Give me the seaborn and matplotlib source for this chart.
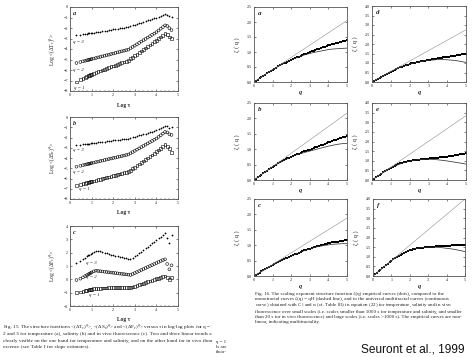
import numpy as np
import pandas as pd
import matplotlib
matplotlib.use("Agg")
import matplotlib.pyplot as plt
from matplotlib.ticker import MultipleLocator
import seaborn as sns

# ---- Fig. 15 data: log tau vs log structure function, q = 1, 2, 3 ----
logt = [0.3, 0.48, 0.6, 0.7, 0.78, 0.85, 0.9, 0.95, 1.0, 1.1, 1.2, 1.3, 1.4, 1.5, 1.6,
        1.7, 1.8, 1.9, 2.0, 2.1, 2.2, 2.3, 2.4, 2.5, 2.6, 2.7, 2.8, 2.9, 3.0, 3.1, 3.2,
        3.3, 3.4, 3.5, 3.6, 3.7, 3.8, 3.9, 4.0, 4.1, 4.2, 4.3, 4.4, 4.5, 4.6, 4.7]

temp_q3 = [-2.70, -2.63, -2.60, -2.57, -2.55, -2.52, -2.51, -2.49, -2.47, -2.44, -2.41, -2.37,
           -2.34, -2.31, -2.27, -2.24, -2.21, -2.17, -2.14, -2.10, -2.07, -2.03, -2.00, -1.96,
           -1.93, -1.89, -1.83, -1.76, -1.69, -1.62, -1.55, -1.49, -1.41, -1.35, -1.28, -1.21,
           -1.14, -1.07, -1.00, -0.93, -0.85, -0.77, -0.70, -0.73, -0.84, -0.92]
temp_q2 = [-5.33, -5.24, -5.17, -5.12, -5.08, -5.04, -5.01, -4.99, -4.96, -4.91, -4.86, -4.80,
           -4.75, -4.70, -4.64, -4.59, -4.54, -4.48, -4.43, -4.38, -4.32, -4.27, -4.22, -4.16,
           -4.11, -4.06, -3.93, -3.80, -3.68, -3.55, -3.42, -3.29, -3.16, -3.04, -2.91, -2.78,
           -2.65, -2.53, -2.40, -2.24, -2.07, -1.91, -1.75, -1.80, -2.02, -2.20]
temp_q1 = [-7.14, -6.92, -6.80, -6.70, -6.62, -6.55, -6.50, -6.45, -6.40, -6.32, -6.24, -6.17,
           -6.09, -6.01, -5.93, -5.86, -5.78, -5.70, -5.62, -5.55, -5.47, -5.39, -5.31, -5.24,
           -5.16, -5.08, -4.93, -4.79, -4.64, -4.49, -4.34, -4.20, -4.05, -3.90, -3.76, -3.61,
           -3.46, -3.32, -3.17, -3.01, -2.85, -2.70, -2.54, -2.60, -2.85, -3.00]

sal_q3 = [-2.75, -2.70, -2.67, -2.64, -2.62, -2.60, -2.59, -2.57, -2.56, -2.53, -2.51, -2.48,
          -2.45, -2.43, -2.40, -2.37, -2.34, -2.32, -2.29, -2.26, -2.24, -2.21, -2.18, -2.16,
          -2.13, -2.10, -2.04, -1.98, -1.92, -1.86, -1.79, -1.73, -1.67, -1.61, -1.55, -1.49,
          -1.42, -1.36, -1.30, -1.19, -1.09, -0.98, -0.87, -0.92, -1.05, -0.95]
sal_q2 = [-4.85, -4.76, -4.70, -4.65, -4.61, -4.58, -4.55, -4.53, -4.50, -4.45, -4.40, -4.35,
          -4.30, -4.25, -4.20, -4.15, -4.10, -4.05, -4.00, -3.96, -3.91, -3.86, -3.81, -3.76,
          -3.71, -3.66, -3.54, -3.42, -3.30, -3.18, -3.06, -2.94, -2.82, -2.70, -2.58, -2.46,
          -2.34, -2.22, -2.10, -1.94, -1.78, -1.62, -1.46, -1.50, -1.68, -1.75]
sal_q1 = [-6.70, -6.60, -6.52, -6.46, -6.41, -6.37, -6.34, -6.32, -6.30, -6.24, -6.19, -6.13,
          -6.07, -6.02, -5.96, -5.90, -5.85, -5.79, -5.73, -5.68, -5.62, -5.56, -5.51, -5.45,
          -5.40, -5.34, -5.19, -5.04, -4.89, -4.74, -4.59, -4.44, -4.30, -4.15, -4.00, -3.85,
          -3.70, -3.55, -3.40, -3.23, -3.05, -2.88, -2.70, -2.85, -3.05, -3.45]

fluo_q3 = [1.20, 1.35, 1.50, 1.62, 1.72, 1.80, 1.86, 1.92, 1.98, 2.08, 2.15, 2.13, 2.09, 2.04,
           1.99, 1.95, 1.90, 1.86, 1.82, 1.78, 1.74, 1.70, 1.66, 1.62, 1.57, 1.53, 1.50, 1.60,
           1.72, 1.84, 1.96, 2.08, 2.20, 2.32, 2.45, 2.57, 2.70, 2.82, 2.95, 3.07, 3.20, 3.32,
           3.45, 3.10, 2.75, 3.30]
fluo_q2 = [-0.05, 0.05, 0.15, 0.24, 0.31, 0.37, 0.42, 0.47, 0.52, 0.60, 0.65, 0.63, 0.61, 0.59,
           0.57, 0.55, 0.53, 0.51, 0.49, 0.47, 0.45, 0.43, 0.41, 0.39, 0.37, 0.35, 0.33, 0.40,
           0.47, 0.55, 0.62, 0.70, 0.77, 0.85, 0.92, 1.00, 1.07, 1.15, 1.22, 1.30, 1.37, 1.44,
           1.50, 1.15, 0.75, 1.05]
fluo_q1 = [-1.00, -0.95, -0.90, -0.86, -0.83, -0.80, -0.78, -0.76, -0.74, -0.70, -0.67, -0.66,
           -0.66, -0.65, -0.65, -0.65, -0.64, -0.64, -0.64, -0.64, -0.63, -0.63, -0.63, -0.63,
           -0.62, -0.62, -0.62, -0.57, -0.51, -0.46, -0.40, -0.35, -0.29, -0.24, -0.18, -0.13,
           -0.07, -0.02, 0.04, 0.09, 0.15, 0.20, 0.25, 0.12, -0.02, 0.12]

# ---- Fig. 16 data: zeta(q) ----
q_dots = [round(0.1 * i, 1) for i in range(51)]
q_curve = [0.0, 0.25, 0.5, 0.75, 1.0, 1.25, 1.5, 1.75, 2.0, 2.25, 2.5, 2.75, 3.0, 3.25, 3.5,
           3.75, 4.0, 4.25, 4.5, 4.75, 5.0]
q_line = [0, 5]

dots_a = [0.00, 0.04, 0.08, 0.12, 0.17, 0.21, 0.25, 0.29, 0.33, 0.37, 0.41, 0.44, 0.48, 0.52,
          0.56, 0.59, 0.62, 0.65, 0.68, 0.71, 0.74, 0.77, 0.79, 0.82, 0.84, 0.87, 0.90, 0.92,
          0.95, 0.97, 1.00, 1.02, 1.04, 1.07, 1.09, 1.11, 1.13, 1.16, 1.18, 1.20, 1.22, 1.24,
          1.26, 1.28, 1.30, 1.31, 1.33, 1.35, 1.36, 1.38, 1.39]
curve_a = [0, 0.10, 0.21, 0.31, 0.41, 0.50, 0.59, 0.67, 0.74, 0.80, 0.86, 0.91, 0.95, 0.99,
           1.02, 1.05, 1.08, 1.10, 1.11, 1.12, 1.13]
line_a = [0, 2.05]

dots_b = [0.00, 0.04, 0.09, 0.13, 0.17, 0.22, 0.26, 0.30, 0.35, 0.39, 0.43, 0.47, 0.50, 0.54,
          0.57, 0.61, 0.64, 0.67, 0.70, 0.73, 0.75, 0.78, 0.81, 0.83, 0.86, 0.88, 0.90, 0.93,
          0.95, 0.97, 0.99, 1.02, 1.04, 1.06, 1.08, 1.11, 1.13, 1.15, 1.17, 1.20, 1.22, 1.24,
          1.26, 1.29, 1.31, 1.33, 1.35, 1.37, 1.39, 1.41, 1.43]
curve_b = [0, 0.11, 0.22, 0.33, 0.43, 0.52, 0.60, 0.68, 0.75, 0.81, 0.86, 0.90, 0.94, 0.98,
           1.02, 1.06, 1.10, 1.13, 1.16, 1.18, 1.19]
line_b = [0, 2.17]

dots_c = [0.00, 0.04, 0.08, 0.11, 0.15, 0.18, 0.22, 0.25, 0.29, 0.32, 0.35, 0.38, 0.42, 0.45,
          0.48, 0.51, 0.54, 0.57, 0.60, 0.62, 0.65, 0.68, 0.71, 0.73, 0.76, 0.78, 0.80, 0.83,
          0.85, 0.87, 0.89, 0.91, 0.93, 0.95, 0.97, 0.98, 1.00, 1.02, 1.03, 1.05, 1.06, 1.07,
          1.09, 1.10, 1.11, 1.12, 1.13, 1.14, 1.15, 1.16, 1.17]
curve_c = [0, 0.09, 0.18, 0.27, 0.35, 0.43, 0.51, 0.58, 0.65, 0.71, 0.78, 0.83, 0.88, 0.93,
           0.96, 0.99, 1.01, 1.03, 1.04, 1.05, 1.05]
line_c = [0, 1.88]

dots_d = [0.00, 0.06, 0.11, 0.17, 0.22, 0.28, 0.33, 0.39, 0.44, 0.50, 0.55, 0.60, 0.65, 0.69,
          0.73, 0.77, 0.81, 0.85, 0.89, 0.92, 0.95, 0.98, 1.00, 1.02, 1.04, 1.06, 1.08, 1.10,
          1.12, 1.14, 1.16, 1.17, 1.19, 1.21, 1.22, 1.24, 1.26, 1.27, 1.29, 1.31, 1.32, 1.34,
          1.35, 1.37, 1.39, 1.40, 1.42, 1.44, 1.45, 1.47, 1.49]
curve_d = [0, 0.14, 0.28, 0.41, 0.55, 0.66, 0.77, 0.86, 0.94, 1.00, 1.06, 1.10, 1.14, 1.16,
           1.18, 1.18, 1.17, 1.15, 1.12, 1.08, 1.03]
line_d = [0, 2.75]

dots_e = [0.00, 0.07, 0.13, 0.20, 0.27, 0.33, 0.40, 0.46, 0.52, 0.58, 0.64, 0.69, 0.74, 0.78,
          0.82, 0.86, 0.89, 0.92, 0.95, 0.97, 0.99, 1.01, 1.02, 1.04, 1.05, 1.06, 1.07, 1.08,
          1.09, 1.10, 1.11, 1.12, 1.13, 1.14, 1.15, 1.16, 1.17, 1.18, 1.20, 1.21, 1.22, 1.24,
          1.25, 1.27, 1.28, 1.30, 1.32, 1.34, 1.35, 1.37, 1.39]
curve_e = [0, 0.17, 0.33, 0.48, 0.62, 0.74, 0.84, 0.92, 0.98, 1.03, 1.06, 1.08, 1.08, 1.07,
           1.05, 1.02, 0.99, 0.95, 0.91, 0.87, 0.83]
line_e = [0, 3.34]

dots_f = [0.00, 0.08, 0.16, 0.24, 0.32, 0.40, 0.48, 0.56, 0.64, 0.71, 0.79, 0.86, 0.93, 0.99,
          1.05, 1.11, 1.16, 1.21, 1.25, 1.29, 1.33, 1.36, 1.39, 1.41, 1.43, 1.45, 1.47, 1.48,
          1.49, 1.50, 1.51, 1.52, 1.53, 1.53, 1.54, 1.55, 1.55, 1.56, 1.56, 1.57, 1.57, 1.58,
          1.58, 1.59, 1.59, 1.60, 1.60, 1.61, 1.61, 1.62, 1.62]
curve_f = [0, 0.20, 0.40, 0.60, 0.79, 0.96, 1.11, 1.24, 1.34, 1.41, 1.46, 1.49, 1.50, 1.50,
           1.49, 1.47, 1.44, 1.41, 1.37, 1.32, 1.27]
line_f = [0, 4.0]

cap15 = ["Fig. 15. The structure functions <(ΔT$_τ$)$^q$>, <(ΔS$_τ$)$^q$> and <(ΔF$_τ$)$^q$> versus τ in log-log plots for q = 1,",
         "2 and 3 for temperature (a), salinity (b) and in vivo fluorescence (c). Two and three linear trends are",
         "clearly visible on the one hand for temperature and salinity, and on the other hand for in vivo fluor-",
         "escence (see Table I for slope estimates)."]
cap16 = ("Fig. 16. The scaling exponent structure function ζ(q) empirical curves (dots), compared to the\n"
         "monofractal curves ζ(q) = qH (dashed line), and to the universal multifractal curves (continuous\n"
         "curve) obtained with C$_1$ and α (cf. Table III) in equation (22) for temperature, salinity and in vivo\n"
         "fluorescence over small scales (i.e. scales smaller than 1000 s for temperature and salinity, and smaller\n"
         "than 20 s for in vivo fluorescence) and large scales (i.e. scales >1000 s). The empirical curves are non-\n"
         "linear, indicating multifractality.")

sns.set_style("ticks")
plt.rcParams['font.family'] = ['Liberation Serif', 'DejaVu Serif']
plt.rcParams['mathtext.fontset'] = 'stix'

W, H = 476, 357
fig = plt.figure(figsize=(W / 100, H / 100), dpi=100)
fig.patch.set_facecolor('white')
ink = '#222222'


def box(l, t, r, b):
    return [l / W, 1 - b / H, (r - l) / W, (b - t) / H]


def style_ax(ax):
    for s in ax.spines.values():
        s.set_linewidth(0.6)
        s.set_color('#555555')
    ax.tick_params(direction='in', length=1.5, width=0.4, labelsize=3, pad=1.5,
                   colors=ink, top=True, right=True)
    ax.tick_params(which='minor', direction='in', length=0.8, width=0.3, top=True)


# ---- left figure ----
left = [
    (box(70, 7, 178, 91), (-8, 0), [temp_q1, temp_q2, temp_q3], 'T', 'a',
     [(0.18, -7.75, 'q = 1'), (0.12, -6.0, 'q = 2'), (0.15, -3.3, 'q = 3')]),
    (box(70, 117, 178, 199), (-8, 0), [sal_q1, sal_q2, sal_q3], 'S', 'b',
     [(0.4, -7.0, 'q = 1'), (0.12, -5.35, 'q = 2'), (0.12, -3.2, 'q = 3')]),
    (box(70, 226, 178, 306), (-2, 4), [fluo_q1, fluo_q2, fluo_q3], 'F', 'c',
     [(0.9, -1.15, 'q = 1'), (0.75, 0.15, 'q = 2'), (0.75, 1.2, 'q = 3')]),
]
markers = [('s', 'none', 4), ('o', 'none', 4), ('+', 'k', 3)]

for pos, ylim, series, var, letter, labels in left:
    ax = fig.add_axes(pos)
    for ys, (m, fc, sz) in zip(series, markers):
        if m == '+':
            sns.scatterplot(x=logt, y=ys, marker=m, s=sz, color='k', linewidth=0.5, ax=ax)
        else:
            sns.scatterplot(x=logt, y=ys, marker=m, s=sz, facecolors=fc, edgecolor='k',
                            linewidth=0.4, ax=ax)
    ax.set_xlim(0, 5)
    ax.set_ylim(*ylim)
    ax.set_xticks(range(0, 6))
    ax.set_yticks(range(ylim[0], ylim[1] + 1))
    ax.xaxis.set_minor_locator(MultipleLocator(0.2))
    style_ax(ax)
    ax.set_xlabel('Log τ', fontsize=4, fontweight='bold', color=ink)
    ax.xaxis.set_label_coords(0.5, -0.14)
    ax.set_ylabel('Log <(Δ%s$_τ$)$^q$>' % var, fontsize=4, color=ink)
    ax.yaxis.set_label_coords(-0.12, 0.5)
    ax.text(0.03, 0.95, letter, transform=ax.transAxes, fontsize=4.5, style='italic',
            fontweight='bold', va='top', color=ink)
    for tx, ty, s in labels:
        ax.text(tx, ty, s, fontsize=3.5, style='italic', color=ink, va='center')

# ---- right figure ----
right = [
    (box(254, 7, 347, 82), 2.5, 0.5, q_line, line_a, curve_a, dots_a, 'a'),
    (box(372, 6, 466, 82), 4.0, 0.5, q_line, line_d, curve_d, dots_d, 'd'),
    (box(254, 103, 347, 180), 2.5, 0.5, q_line, line_b, curve_b, dots_b, 'b'),
    (box(372, 103, 466, 180), 4.0, 0.5, q_line, line_e, curve_e, dots_e, 'e'),
    (box(254, 199, 347, 276), 2.5, 0.5, q_line, line_c, curve_c, dots_c, 'c'),
    (box(373, 199, 465, 276), 4.0, 0.5, q_line, line_f, curve_f, dots_f, 'f'),
]
for pos, ymax, ystep, ql, lv, cv, dv, letter in right:
    ax = fig.add_axes(pos)
    sns.lineplot(x=ql, y=lv, color='#9a9a9a', linewidth=0.45, ax=ax)
    sns.lineplot(x=q_curve, y=cv, color='#333333', linewidth=0.55, ax=ax)
    sns.scatterplot(x=q_dots, y=dv, marker='s', s=1.8, color='k', linewidth=0, ax=ax)
    ax.set_xlim(0, 5)
    ax.set_ylim(0, ymax)
    ax.set_xticks(range(0, 6))
    ax.set_yticks(np.arange(0, ymax + 0.01, ystep))
    ax.set_yticklabels(['%.1f' % v for v in np.arange(0, ymax + 0.01, ystep)])
    style_ax(ax)
    ax.set_xlabel('q', fontsize=4.5, style='italic', fontweight='bold', color=ink)
    ax.xaxis.set_label_coords(0.5, -0.11)
    ax.set_ylabel('ζ ( q )', fontsize=4.5, color=ink)
    ax.yaxis.set_label_coords(-0.15, 0.5)
    ax.text(0.04, 0.95, letter, transform=ax.transAxes, fontsize=5, style='italic',
            fontweight='bold', va='top', color=ink)

# ---- captions ----
cax = fig.add_axes(box(0, 320, 212, 357))
cax.set_axis_off()
cax.set_xlim(0, 212)
cax.set_ylim(357, 320)
for i, line in enumerate(cap15):
    cax.text(3, 328 + 6.3 * i, line, fontsize=3.8, color=ink, va='center', clip_on=True)
for i, frag in enumerate(['q = 1', 'ls are', 'fluor-']):
    fig.text(216 / W, 1 - (342 + 5 * i) / H, frag, fontsize=3.5, color=ink, va='center')

fig.text(255 / W, 1 - 292 / H, cap16, fontsize=3.6, color=ink, va='top', linespacing=1.25)
fig.text(361 / W, 1 - 352 / H, 'Seuront et al., 1999', fontsize=8.6, color='#111111',
         family=['Liberation Sans', 'DejaVu Sans'], va='baseline')

fig.savefig('out.png', dpi=100, facecolor='white')
